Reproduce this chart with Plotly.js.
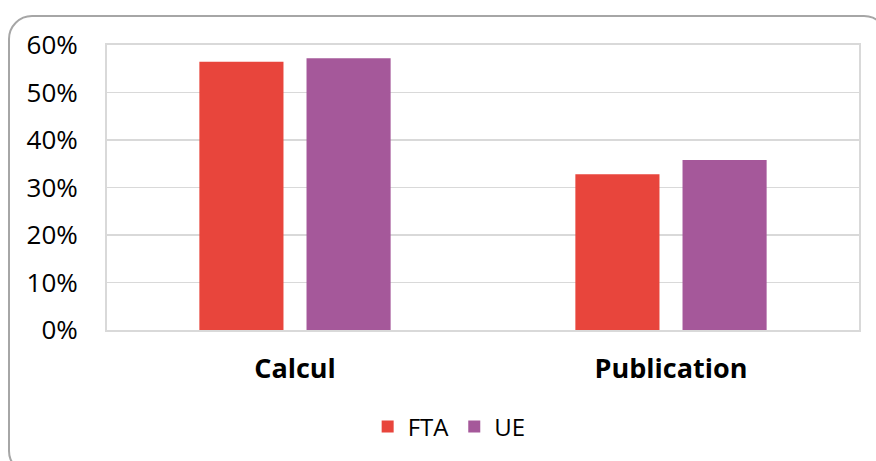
<!DOCTYPE html>
<html>
<head>
<meta charset="utf-8">
<script src="https://cdn.plot.ly/plotly-3.0.1.min.js"></script>
<style>
html,body{margin:0;padding:0;background:#fff;}
#frame{position:absolute;left:8px;top:15px;width:880px;height:460px;border:2px solid #a6a6a6;border-radius:24px;box-sizing:border-box;}
#chart{position:absolute;left:0;top:0;width:876px;height:461px;}
</style>
</head>
<body>
<div id="frame"></div>
<div id="chart"></div>
<script>
const categories = ["Calcul", "Publication"];
const seriesNames = ["FTA", "UE"];
const ftaValues = [0.565, 0.328];
const ueValues = [0.572, 0.358];
const yTickValues = [0, 0.1, 0.2, 0.3, 0.4, 0.5, 0.6];
const yTickLabels = ["0%", "10%", "20%", "30%", "40%", "50%", "60%"];

const font = "'Open Sans', 'Noto Sans', sans-serif";
const data = [
  {type: "bar", name: seriesNames[0], x: categories, y: ftaValues, marker: {color: "#E8453C"}, hoverinfo: "none"},
  {type: "bar", name: seriesNames[1], x: categories, y: ueValues, marker: {color: "#A5589A"}, hoverinfo: "none"}
];
const layout = {
  width: 876, height: 461,
  margin: {l: 107, r: 17, t: 45, b: 129},
  paper_bgcolor: "rgba(0,0,0,0)",
  plot_bgcolor: "rgba(0,0,0,0)",
  barmode: "group",
  bargap: 0.43,
  bargroupgap: 0.215,
  font: {family: font, color: "#000"},
  showlegend: true,
  legend: {orientation: "h", x: 0.455, xanchor: "center", y: -0.34, yanchor: "middle", font: {size: 24, family: font}, itemwidth: 30, traceorder: "normal"},
  xaxis: {
    showline: true, linecolor: "#d9d9d9", linewidth: 2, mirror: true,
    ticks: "", tickfont: {size: 27, family: font, weight: "bold"},
    ticklabelstandoff: 14, fixedrange: true
  },
  yaxis: {
    range: [0, 0.6], tickvals: yTickValues, ticktext: yTickLabels,
    showgrid: true, gridcolor: "#d9d9d9", gridwidth: 1.5,
    showline: true, linecolor: "#d9d9d9", linewidth: 2, mirror: true,
    zeroline: false, ticks: "", tickfont: {size: 26, family: font},
    ticklabelstandoff: 22, fixedrange: true
  }
};
Plotly.newPlot("chart", data, layout, {displayModeBar: false, staticPlot: true});
</script>
</body>
</html>
